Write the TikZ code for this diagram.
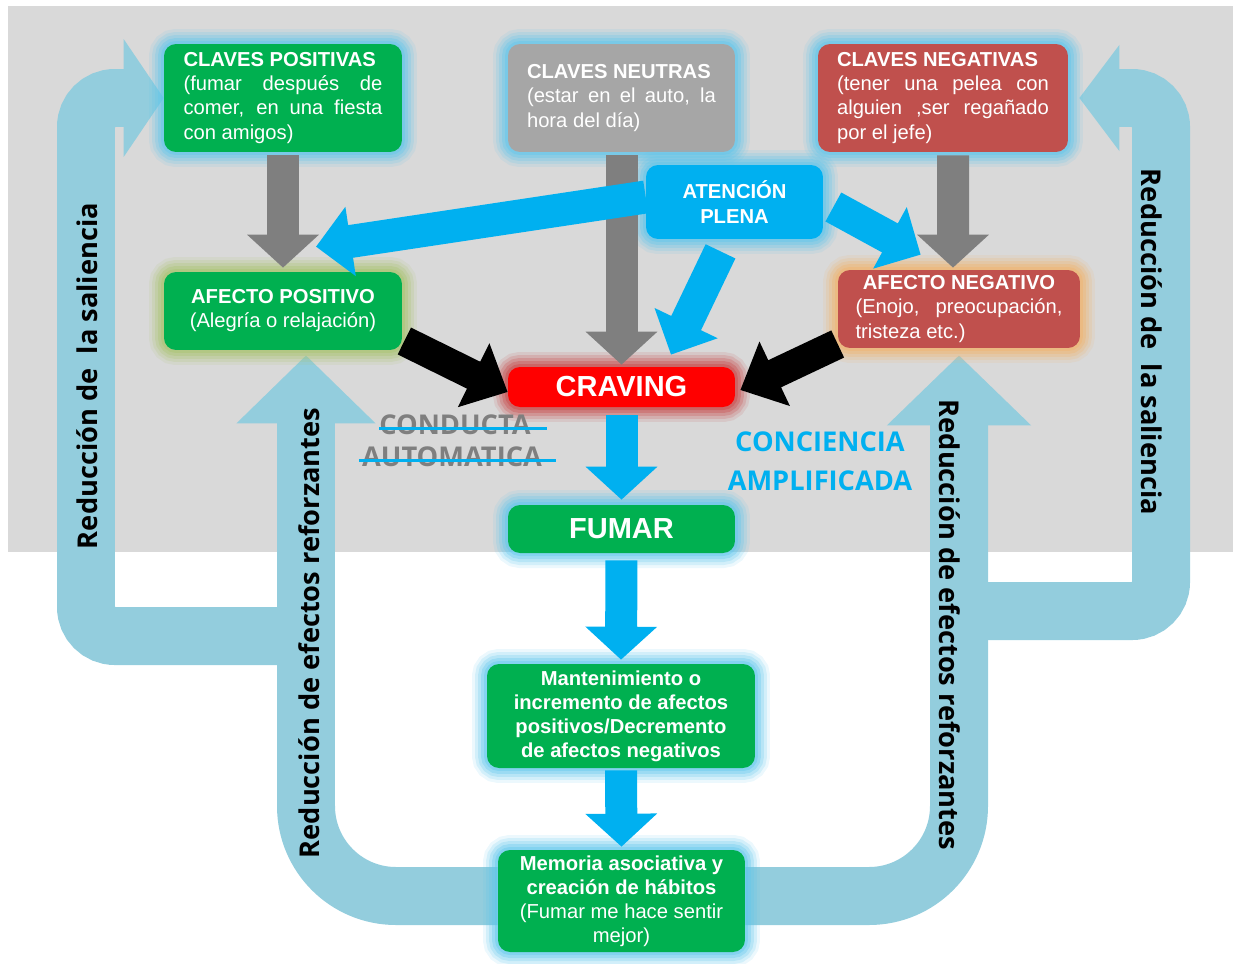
\documentclass[tikz,border=0pt]{standalone}
\usepackage{fontspec}
\setmainfont{Liberation Sans}
\newfontfamily\labfont{Open Sans}
\usepackage{tikz}
\usetikzlibrary{calc,arrows.meta}
\definecolor{bgx}{HTML}{D9D9D9}
\definecolor{greenx}{HTML}{00B050}
\definecolor{redx}{HTML}{C0504D}
\definecolor{cravx}{HTML}{FF0000}
\definecolor{greyx}{HTML}{A6A6A6}
\definecolor{bluex}{HTML}{00B0F0}
\definecolor{darkx}{HTML}{7F7F7F}
\definecolor{loopx}{HTML}{93CDDD}
\definecolor{glowb}{HTML}{5FC6EC}
\definecolor{glowg}{HTML}{A9C46C}
\definecolor{glowo}{HTML}{F2B36A}
\definecolor{glowr}{HTML}{C84646}
\pgfdeclarelayer{back}
\pgfdeclarelayer{loops}
\pgfsetlayers{back,loops,main}
\setlength{\parindent}{0pt}
\newcommand{\boxfs}{\fontsize{11.5}{13.7}\selectfont}
\newcommand{\bigfs}{\fontsize{16.5}{19}\selectfont}
\newcommand{\labfs}{\labfont\bfseries\fontsize{15.5}{22}\selectfont}
\tikzset{
  box/.style={rounded corners=0.24cm,text=white,font=\boxfs,inner ysep=2pt},
  glow/.style={preaction={draw=#1,line width=0.6cm,opacity=0.12},
    preaction={draw=#1,line width=0.48cm,opacity=0.18},
    preaction={draw=#1,line width=0.36cm,opacity=0.24},
    preaction={draw=#1,line width=0.24cm,opacity=0.32},
    preaction={draw=#1,line width=0.12cm,opacity=0.4}},
  gar/.style={-{Triangle[length=0.66cm,width=1.4cm]},line width=0.64cm,darkx},
  blar/.style={-{Triangle[length=0.7cm,width=1.36cm]},line width=0.66cm,bluex},
  dar/.style={-{Triangle[length=0.66cm,width=1.4cm]},line width=0.64cm,bluex},
  kar/.style={-{Triangle[length=0.76cm,width=1.38cm]},line width=0.6cm,black},
  lp/.style={line width=1.16cm,loopx},
  lab/.style={font=\labfs,text=black},
  strike/.style={bluex,line width=0.06cm}
}
\begin{document}
\begin{tikzpicture}[x=0.02cm,y=-0.02cm]
\useasboundingbox (0,0) rectangle (1233,963);
\begin{pgfonlayer}{back}
\fill[bgx] (8,6) rectangle (1233,552);
\end{pgfonlayer}

\node[box,fill=greenx,glow=glowb,text width=3.98cm,inner xsep=0.39cm,minimum height=2.16cm,align=justify] (cpos) at (283,98)
  {\mbox{\textbf{CLAVES POSITIVAS}}\par(fumar después de\linebreak comer, en una fiesta\linebreak con amigos)};
\node[box,fill=greyx,glow=glowb,text width=3.78cm,inner xsep=0.38cm,minimum height=2.16cm,align=justify] (cneu) at (621.5,98)
  {\mbox{\textbf{CLAVES NEUTRAS}}\par(estar en el auto, la\linebreak hora del día)};
\node[box,fill=redx,glow=glowb,text width=4.24cm,inner xsep=0.38cm,minimum height=2.16cm,align=justify] (cneg) at (943,98)
  {\mbox{\textbf{CLAVES NEGATIVAS}}\par(tener una pelea con\linebreak alguien ,ser regañado\linebreak por el jefe)};
\node[box,fill=bluex,glow=glowb,minimum width=3.54cm,minimum height=1.48cm,align=center,font=\boxfs\bfseries] (aten) at (734.5,202)
  {ATENCIÓN\\[1pt]PLENA};
\node[box,fill=greenx,glow=glowg,minimum width=4.76cm,minimum height=1.56cm,align=center] (apos) at (283,311)
  {\textbf{AFECTO POSITIVO}\\(Alegría o relajación)};
\node[box,fill=redx,glow=glowo,text width=4.14cm,inner xsep=0.35cm,minimum height=1.56cm,align=justify] (aneg) at (959,309)
  {\hfil\mbox{\textbf{AFECTO NEGATIVO}}\hfil\par(Enojo, preocupación,\linebreak tristeza etc.)};
\node[box,fill=cravx,glow=glowr,minimum width=4.54cm,minimum height=0.8cm,font=\bigfs\bfseries] (crav) at (621.5,387) {CRAVING};
\node[box,fill=greenx,glow=glowb,minimum width=4.54cm,minimum height=0.96cm,font=\bigfs\bfseries] (fumar) at (621.5,529) {FUMAR};
\node[box,fill=greenx,glow=glowb,minimum width=5.36cm,minimum height=2.08cm,align=center,font=\boxfs\bfseries] (mant) at (621,716)
  {Mantenimiento o\\incremento de afectos\\positivos/Decremento\\de afectos negativos};
\node[box,fill=greenx,glow=glowb,minimum width=4.94cm,minimum height=2.04cm,align=center] (mem) at (621.5,901)
  {\textbf{Memoria asociativa y}\\\textbf{creación de hábitos}\\(Fumar me hace sentir\\mejor)};

\begin{pgfonlayer}{loops}
\coordinate (lsal) at (306,636);
\coordinate (rsal) at (957,611);
\draw[lp,rounded corners=1.8cm,-{Triangle[length=1.36cm,width=2.7cm]},shorten >=0.1cm] ([yshift=0.1cm]mem.west) -| ([xshift=0.46cm]apos.south);
\draw[lp,rounded corners=1.8cm,-{Triangle[length=1.4cm,width=2.8cm]},shorten >=0.14cm] ([yshift=0.1cm]mem.east) -| (aneg.south);
\draw[lp,rounded corners=0.58cm,-{Triangle[length=0.8cm,width=2.32cm]}] (lsal) -| (86,98) -- (cpos.west);
\draw[lp,rounded corners=0.58cm,-{Triangle[length=0.8cm,width=2.08cm]},shorten >=0.22cm] (rsal) -| (1161,98) -- (cneg.east);
\end{pgfonlayer}

\draw[gar,shorten <=0.06cm,shorten >=0.08cm] (cpos.south) -- (apos.north);
\draw[gar,shorten <=0.06cm,shorten >=0.04cm] (cneu.south) -- (crav.north);
\draw[gar,shorten <=0.06cm,shorten >=0.04cm] ([xshift=0.2cm]cneg.south) -- ([xshift=-0.12cm]aneg.north);
\draw[blar] ([yshift=0.1cm]aten.west) -- ([xshift=0.66cm,yshift=0.5cm]apos.north);
\draw[blar] ([xshift=-0.28cm,yshift=-0.24cm]aten.south) -- ([xshift=0.99cm,yshift=0.24cm]crav.north);
\draw[blar] ([xshift=0.2cm,yshift=-0.1cm]aten.east) -- ([xshift=1.66cm,yshift=0.3cm]aneg.north west);
\draw[kar] ([xshift=0.04cm,yshift=-0.6cm]apos.east) -- ([yshift=-0.1cm]crav.west);
\draw[kar] ([yshift=-0.7cm]aneg.west) -- ([xshift=0.1cm,yshift=-0.06cm]crav.east);
\draw[dar,shorten <=0.16cm,shorten >=0.1cm] (crav.south) -- (fumar.north);
\draw[dar,shorten <=0.14cm,shorten >=0.08cm] (fumar.south) -- (mant.north);
\draw[dar,shorten <=0.04cm,shorten >=0.06cm] (mant.south) -- (mem.north);

\node[lab,rotate=90] (lsl) at (87,376) {Reducción de\ \ la saliencia};
\node[lab,rotate=90] (lref) at (309,633) {Reducción de efectos reforzantes};
\node[lab,rotate=-90] (rref) at (950,625) {Reducción de efectos reforzantes};
\node[lab,rotate=-90] (rsl) at (1152,342) {Reducción de\ \ la saliencia};
\node[lab,text=darkx] (cond) at (455,425) {CONDUCTA};
\node[lab,text=darkx] (auto) at (452,457) {AUTOMATICA};
\draw[strike] ([xshift=0.12cm,yshift=-0.06cm]cond.west) -- ([xshift=0.2cm,yshift=-0.06cm]cond.east);
\draw[strike] ([xshift=0.06cm,yshift=-0.06cm]auto.west) -- ([xshift=0.16cm,yshift=-0.06cm]auto.east);
\node[lab,text=bluex,align=center] (conc) at (820,461) {CONCIENCIA\\AMPLIFICADA};
\end{tikzpicture}
\end{document}
